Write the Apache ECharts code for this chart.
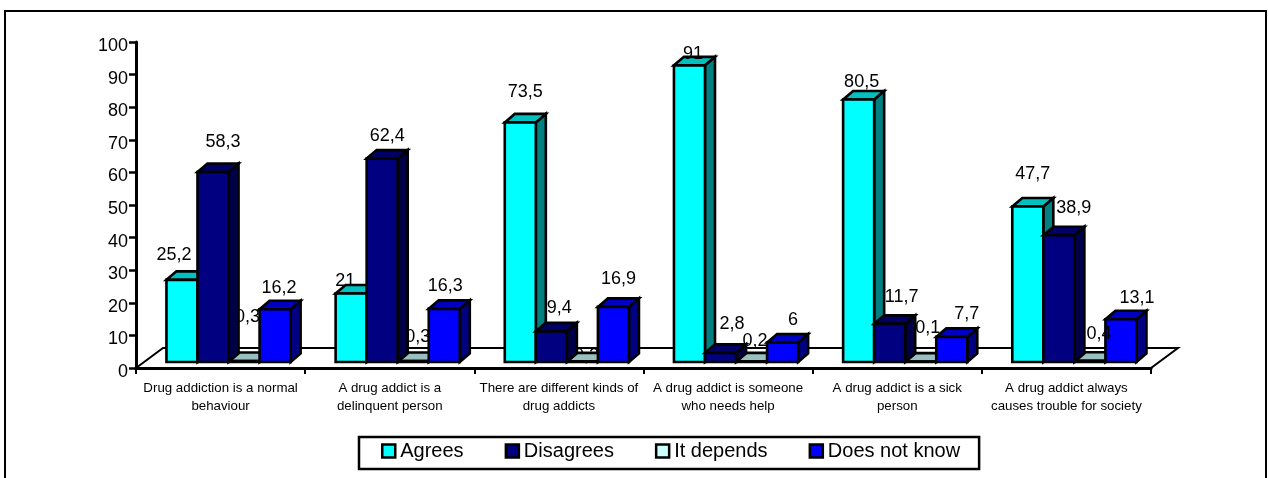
<!DOCTYPE html>
<html>
<head>
<meta charset="utf-8">
<title>Attitudes towards drug addiction</title>
<script src="https://cdn.jsdelivr.net/npm/echarts@6/dist/echarts.min.js"></script>
<style>
  html, body { margin: 0; padding: 0; background: #fff; overflow: hidden; }
  #chart { width: 1269px; height: 478px; }
</style>
</head>
<body>
<div id="chart"></div>
<script>
const categories = [
  'Drug addiction is a normal\nbehaviour',
  'A drug addict is a\ndelinquent person',
  'There are different kinds of\ndrug addicts',
  'A drug addict is someone\nwho needs help',
  'A drug addict is a sick\nperson',
  'A drug addict always\ncauses trouble for society'
];
const seriesNames = ['Agrees', 'Disagrees', 'It depends', 'Does not know'];
const agrees = [25.2, 21, 73.5, 91, 80.5, 47.7];
const disagrees = [58.3, 62.4, 9.4, 2.8, 11.7, 38.9];
const itDepends = [0.3, 0.3, 0.2, 0.2, 0.1, 0.4];
const doesNotKnow = [16.2, 16.3, 16.9, 6, 7.7, 13.1];
const yTicks = { min: 0, max: 100, interval: 10 };

// Hand-placed value labels: offset from the bar's front-top centre.
const labelNudges = [
  [[-8, -25], [-6, -12.5], [5, -30], [3.5, -11], [3, -18], [5, -32.5]],
  [[10, -30], [5, -22.5], [8, -23], [11.5, -29], [12, -27], [15, -27]],
  [[3.5, -44], [4.5, -24], [4, -5], [3.5, -20], [7, -34], [9, -27]],
  [[4, -21], [1, -23], [5, -28], [10.5, -22], [15, -23], [16, -21]]
];

const FONT = '"Liberation Sans", Arial, sans-serif';

// Face colours of each extruded bar: front, top, side.
const palette = [
  { front: '#00ffff', top: '#00c0c0', side: '#008080' },
  { front: '#000080', top: '#000066', side: '#000048' },
  { front: '#ccffff', top: '#99c0c0', side: '#668080' },
  { front: '#0000ff', top: '#0000c0', side: '#000080' }
];

// Paint order: pale bars sit behind their neighbours, navy covers the pale labels.
const barLayer = [5, 6, 2, 3];
const labelLayer = [8, 8, 4, 8];
const BURIED_LABEL = { series: 2, category: 2, layer: 1 };

// Projection of the pseudo-3D scene, in pixels.
const FLOOR_DX = 27, FLOOR_DY = 20;
const BAR_DX = 10, BAR_DY = 8.5;
const BAR_BASE_LIFT = 6;
const GROUP_INSET = 0.18, BAR_SHARE = 0.1835;

function poly(points, fill, z2, width) {
  return {
    type: 'polygon',
    z2: z2,
    shape: { points: points },
    style: { fill: fill, stroke: '#000', lineWidth: width, lineJoin: 'miter' }
  };
}

function barRenderer(seriesIndex) {
  return function (params, api) {
    const cat = api.value(0);
    const val = api.value(1);
    const band = api.size([1, 0])[0];
    const origin = api.coord([cat, 0]);
    const tip = api.coord([cat, val]);
    const w = band * BAR_SHARE;
    const x0 = origin[0] - band / 2 + band * GROUP_INSET + seriesIndex * w;
    const x1 = x0 + w;
    const yBase = origin[1] - BAR_BASE_LIFT;
    const yTop = tip[1] - BAR_BASE_LIFT;
    const c = palette[seriesIndex];
    const layer = barLayer[seriesIndex];
    const nudge = labelNudges[seriesIndex][cat];
    const buried = seriesIndex === BURIED_LABEL.series && cat === BURIED_LABEL.category;
    return {
      type: 'group',
      children: [
        poly([[x1, yBase], [x1 + BAR_DX, yBase - BAR_DY], [x1 + BAR_DX, yTop - BAR_DY], [x1, yTop]], c.side, layer, 2.6),
        poly([[x0, yTop], [x0 + BAR_DX, yTop - BAR_DY], [x1 + BAR_DX, yTop - BAR_DY], [x1, yTop]], c.top, layer, 2.6),
        poly([[x0, yBase], [x1, yBase], [x1, yTop], [x0, yTop]], c.front, layer, 2.6),
        {
          type: 'text',
          z2: buried ? BURIED_LABEL.layer : labelLayer[seriesIndex],
          style: {
            text: String(val).replace('.', ','),
            x: (x0 + x1) / 2 + nudge[0],
            y: yTop + nudge[1],
            align: 'center',
            verticalAlign: 'middle',
            fill: '#000',
            font: '18px ' + FONT
          }
        }
      ]
    };
  };
}

function floorRenderer(params, api) {
  const a = api.coord([0, 0]);
  const b = api.coord([categories.length - 1, 0]);
  const band = api.size([1, 0])[0];
  const left = a[0] - band / 2;
  const right = b[0] + band / 2;
  const y = a[1];
  return poly([[left, y], [left + FLOOR_DX, y - FLOOR_DY], [right + FLOOR_DX, y - FLOOR_DY], [right, y]], '#fff', 0, 2);
}

const valueLists = [agrees, disagrees, itDepends, doesNotKnow];

const chart = echarts.init(document.getElementById('chart'), null, { renderer: 'canvas' });
chart.setOption({
  animation: false,
  backgroundColor: '#fff',
  grid: { left: 136, right: 118, top: 42, bottom: 110, containLabel: false },
  graphic: [{
    type: 'rect',
    silent: true,
    shape: { x: 5, y: 11, width: 1261, height: 490 },
    style: { fill: 'none', stroke: '#000', lineWidth: 2 }
  }],
  xAxis: {
    type: 'category',
    data: categories,
    boundaryGap: true,
    axisLine: { onZero: false, lineStyle: { color: '#000', width: 3 } },
    axisTick: { show: true, length: 6, inside: false, lineStyle: { color: '#000', width: 2 }, alignWithLabel: false },
    axisLabel: {
      interval: 0,
      margin: 11,
      color: '#000',
      fontFamily: FONT,
      fontSize: 13.3,
      lineHeight: 18,
      align: 'center'
    },
    z: 3
  },
  yAxis: {
    type: 'value',
    min: yTicks.min,
    max: yTicks.max,
    interval: yTicks.interval,
    splitLine: { show: false },
    axisLine: { show: true, lineStyle: { color: '#000', width: 3 } },
    axisTick: { show: true, length: 7, lineStyle: { color: '#000', width: 2.5 } },
    axisLabel: { margin: 8, color: '#000', fontFamily: FONT, fontSize: 18, verticalAlign: 'top', lineHeight: 8 },
    z: 3
  },
  legend: {
    left: 359,
    top: 437,
    orient: 'horizontal',
    icon: 'rect',
    itemWidth: 13,
    itemHeight: 13,
    itemGap: 41,
    padding: [4, 19, 8, 22],
    backgroundColor: '#fff',
    borderColor: '#000',
    borderWidth: 2.5,
    borderRadius: 0,
    selectedMode: false,
    textStyle: { color: '#000', fontFamily: FONT, fontSize: 20 },
    data: seriesNames.map((name, i) => ({
      name: name,
      itemStyle: { color: palette[i].front, borderColor: '#000', borderWidth: 2.5 }
    }))
  },
  series: [
    {
      type: 'custom',
      name: 'floor',
      coordinateSystem: 'cartesian2d',
      silent: true,
      renderItem: floorRenderer,
      data: [[0, 0]],
      z: 2
    }
  ].concat(seriesNames.map((name, i) => ({
    type: 'custom',
    name: name,
    coordinateSystem: 'cartesian2d',
    silent: true,
    clip: false,
    itemStyle: { color: palette[i].front },
    renderItem: barRenderer(i),
    encode: { x: 0, y: 1 },
    data: valueLists[i].map((v, c) => [c, v]),
    z: 2
  })))
});
</script>
</body>
</html>
